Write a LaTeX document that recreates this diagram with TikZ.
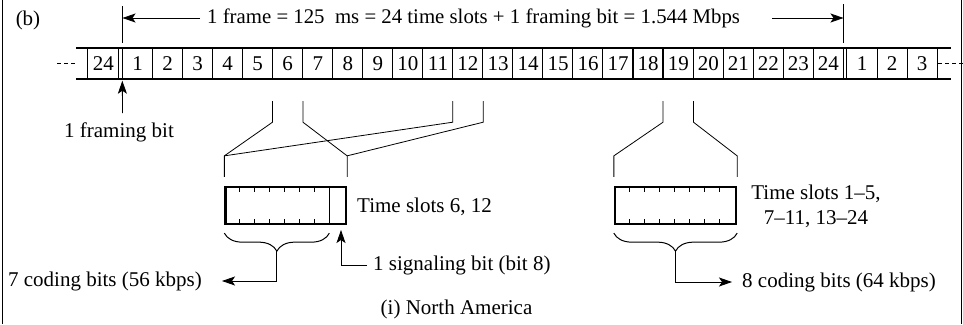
\documentclass[tikz,border=0pt]{standalone}
\usepackage{fontspec}
\setmainfont{Liberation Serif}
\usetikzlibrary{arrows.meta,decorations.pathreplacing,calc}
\begin{document}
\begin{tikzpicture}[x=1pt,y=-1pt,
  every node/.style={font=\fontsize{21}{25}\selectfont, inner sep=0pt},
  thinline/.style={line width=0.8pt},
  thickrule/.style={line width=2.3pt},
  divider/.style={line width=1.1pt},
  arr/.style={-{Stealth[length=13pt,width=9pt,inset=3pt]}, line width=0.8pt},
  cell/.style={minimum width=30.04pt, minimum height=31pt},
  bitbox/.style={draw, line width=2.3pt, minimum width=120.5pt, minimum height=37pt},
  tick/.style={line width=0.9pt},
  bracedeco/.style={decorate, decoration={brace, amplitude=18pt, mirror}, line width=1pt},
]
\useasboundingbox (0,0) rectangle (963,324);

% side rules of the panel
\draw[line width=1.3pt] (2.7,0) -- (2.7,324);
\draw[line width=1.3pt] (961.7,0) -- (961.7,324);

\node (b) at (28,20) {(b)};

% frame cells
\node[cell, minimum width=30.5pt] (c0) at (103.25,63.5) {24};
\foreach \k in {1,...,24} {
  \node[cell] (c\k) at ({122.5+(\k-0.5)*30.04},63.5) {\k};
}
\foreach \k in {1,2,3} {
  \node[cell] (d\k) at ({847+(\k-0.5)*30},63.5) {\k};
}
% dividers
\draw[divider] (c0.north west) -- (c0.south west);
\draw[divider] (c0.north east) -- (c0.south east);
\foreach \k in {1,...,24} {
  \draw[divider] (c\k.north west) -- (c\k.south west);
}
\draw[divider] (c24.north east) -- (c24.south east);
\draw[divider] (d1.north west) -- (d1.south west);
\foreach \k in {1,2,3} {
  \draw[divider] (d\k.north east) -- (d\k.south east);
}
% strip rules
\draw[thickrule] (76,48) -- (951,48);
\draw[thickrule] (76,79) -- (951,79);
\draw[line width=1pt, dash pattern=on 4pt off 3pt] (57,63.5) -- (76,63.5);
\draw[line width=1pt, dash pattern=on 4pt off 3pt] (938,63.5) -- (963,63.5);

% frame markers and title
\coordinate (m1t) at (122.5,6);
\coordinate (m1b) at (122.5,43);
\coordinate (m2t) at (843.5,4);
\coordinate (m2b) at (843.5,43);
\draw[thinline] (m1t) -- (m1b);
\draw[thinline] (m2t) -- (m2b);
\node[anchor=west, font=\fontsize{20.8}{24}\selectfont] (title) at (207,18) {1 frame = 125\ \ ms = 24 time slots + 1 framing bit = 1.544 Mbps};
\coordinate (la) at (200,18);
\coordinate (ra) at (772,18);
\draw[arr] (la) -- (la -| m1t);
\draw[arr] (ra) -- (ra -| m2t);

% framing bit
\node (tf) at (119,132) {1 framing bit};
\coordinate (fa) at (122.5,113);
\draw[arr, shorten >=1.5pt] (fa) -- (c1.south west);

% bit boxes
\node[bitbox] (b1) at (285.75,205.5) {};
\node[bitbox, minimum width=121pt] (b2) at (675.5,205.5) {};
\foreach \k in {1,...,6} {
  \draw[tick] ($(b1.north west)+(15*\k,0)$) -- ++(0,6);
  \draw[tick] ($(b1.south west)+(15*\k,0)$) -- ++(0,-6);
}
\draw[divider] ($(b1.north west)+(105,0)$) -- ($(b1.south west)+(105,0)$);
\foreach \k in {1,...,7} {
  \draw[tick] ($(b2.north west)+(15.125*\k,0)$) -- ++(0,6);
  \draw[tick] ($(b2.south west)+(15.125*\k,0)$) -- ++(0,-6);
}

% connecting lines (slots 6, 12 -> left box)
\draw[thinline] ($(c6.south west)+(0,22)$) -- ++(0,21) -- ($(b1.north west)+(0,-30)$) -- ++(0,21);
\draw[thinline] ($(c6.south east)+(0,22)$) -- ++(0,21) -- ($(b1.north east)+(0,-30)$) -- ++(0,21);
\draw[thinline] ($(c12.south west)+(0,22)$) -- ++(0,21) -- ($(b1.north west)+(0,-30)$);
\draw[thinline] ($(c12.south east)+(0,22)$) -- ++(0,21) -- ($(b1.north east)+(0,-30)$);
% slot 19 -> right box
\draw[thinline] ($(c19.south west)+(0,22)$) -- ++(0,21) -- ($(b2.north west)+(0,-30)$) -- ++(0,21);
\draw[thinline] ($(c19.south east)+(0,22)$) -- ++(0,21) -- ($(b2.north east)+(0,-30)$) -- ++(0,21);

% labels of boxes
\node[anchor=west] (ts6) at (357,207) {Time slots 6, 12};
\node[align=center] (tsr) at (816,206) {Time slots 1--5,\\7--11, 13--24};

% braces
\draw[bracedeco] ($(b1.south west)+(0,8)$) -- ($(b1.south west)+(105,8)$);
\draw[bracedeco] ($(b2.south west)+(0,8)$) -- ($(b2.south east)+(0,8)$);
\coordinate (bt1) at ($(b1.south west)+(52.5,26)$);
\coordinate (bt2) at ($(b2.south)+(0,26)$);

\node[anchor=east] (t7) at (202,281) {7 coding bits (56 kbps)};
\node[anchor=west] (t8) at (742,282) {8 coding bits (64 kbps)};
\draw[arr, shorten >=20pt] (bt1) |- (t7.east);
\draw[arr, shorten >=10pt] (bt2) |- (t8.west);

% signaling bit
\node[anchor=west] (tsig) at (373,265) {1 signaling bit (bit 8)};
\coordinate (sig) at (341,230);
\draw[arr, shorten <=6pt] (tsig.west) -| (sig);

\node (cap) at (456.5,309) {(i) North America};
\end{tikzpicture}
\end{document}
